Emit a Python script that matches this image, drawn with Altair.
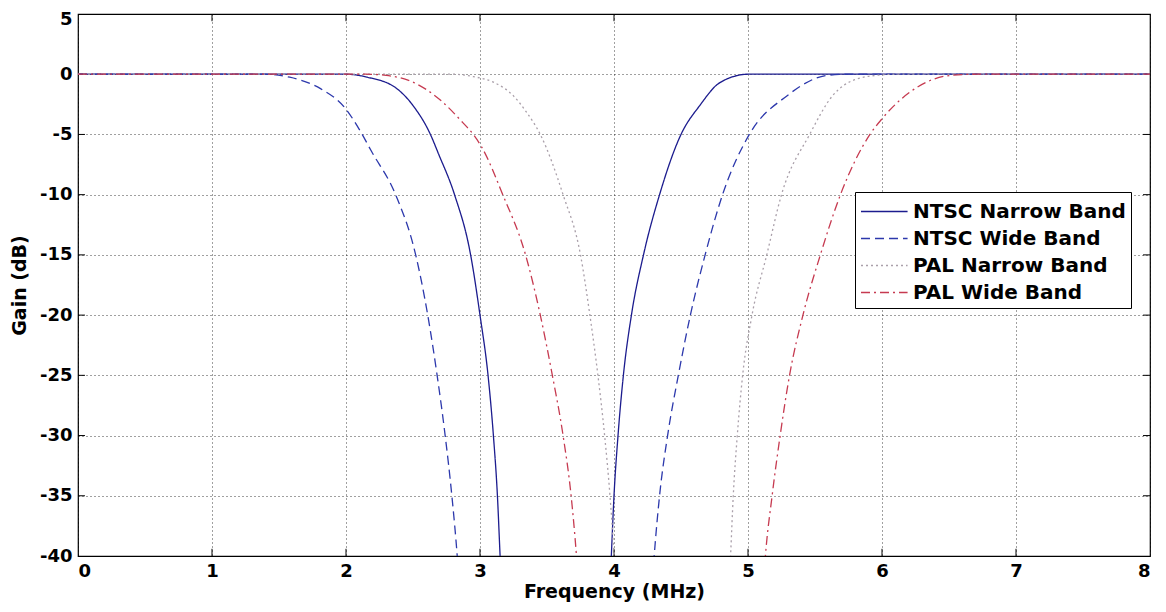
import altair as alt
import pandas as pd

# ---------------- data ----------------
series_names = ["NTSC Narrow Band", "NTSC Wide Band", "PAL Narrow Band", "PAL Wide Band"]
series_colors = ["#1c1c8e", "#2c38ac", "#aaa0aa", "#c63a50"]
series_dashes = [[1, 0], [9, 5], [2, 3], [9, 4, 2, 4]]

ntsc_narrow_f = [0, 2.0, 2.16, 2.38, 2.5, 2.63, 2.69, 2.81, 2.93, 3.0, 3.06, 3.10, 3.13, 3.15, 3.17,
                 3.56, 3.96, 3.98, 4.0, 4.03, 4.07, 4.13, 4.22, 4.34, 4.5, 4.64, 4.79, 5.0, 8.0]
ntsc_narrow_g = [0, 0, -0.25, -1.2, -2.6, -5, -6.6, -10, -15, -20, -25, -30, -35, -40, -45,
                 -80, -45, -40, -35, -30, -25, -20, -15, -10, -5, -2.6, -0.7, 0, 0]

ntsc_wide_f = [0, 1.4, 1.58, 1.81, 2.0, 2.1, 2.19, 2.37, 2.52, 2.61, 2.68, 2.74, 2.79, 2.83, 2.86,
               3.56, 4.27, 4.30, 4.34, 4.40, 4.48, 4.57, 4.68, 4.81, 5.01, 5.29, 5.59, 5.75, 8.0]
ntsc_wide_g = [0, 0, -0.25, -1.2, -2.9, -4.6, -6.4, -10, -15, -20, -25, -30, -35, -40, -45,
               -80, -45, -40, -35, -30, -25, -20, -15, -10, -5, -1.8, -0.1, 0, 0]

pal_narrow_f = [0, 2.8, 2.95, 3.1, 3.25, 3.35, 3.45, 3.62, 3.75, 3.82, 3.88, 3.93, 3.97, 4.0, 4.02,
                4.43, 4.85, 4.87, 4.89, 4.92, 4.96, 5.03, 5.14, 5.25, 5.46, 5.63, 5.81, 6.0, 6.1, 8.0]
pal_narrow_g = [0, 0, -0.2, -0.66, -1.8, -3.2, -5, -10, -15, -20, -25, -30, -35, -40, -45,
                -80, -45, -40, -35, -30, -25, -20, -15, -10, -5, -1.8, -0.4, -0.05, 0, 0]

pal_wide_f = [0, 2.15, 2.3, 2.5, 2.72, 2.87, 2.95, 3.01, 3.17, 3.34, 3.45, 3.54, 3.62, 3.68, 3.72, 3.75,
              4.43, 5.10, 5.13, 5.18, 5.24, 5.31, 5.41, 5.54, 5.69, 5.91, 6.0, 6.26, 6.51, 6.7, 8.0]
pal_wide_g = [0, 0, -0.1, -0.66, -2.3, -4, -5, -6, -10, -15, -20, -25, -30, -35, -40, -45,
              -80, -45, -40, -35, -30, -25, -20, -15, -10, -5, -3.7, -1.1, -0.1, 0, 0]

x_ticks = [0, 1, 2, 3, 4, 5, 6, 7, 8]
y_ticks = [5, 0, -5, -10, -15, -20, -25, -30, -35, -40]

# ---------------- build table ----------------
rows = []
for name, fs, gs in [
    (series_names[0], ntsc_narrow_f, ntsc_narrow_g),
    (series_names[1], ntsc_wide_f, ntsc_wide_g),
    (series_names[2], pal_narrow_f, pal_narrow_g),
    (series_names[3], pal_wide_f, pal_wide_g),
]:
    for i, (f, g) in enumerate(zip(fs, gs)):
        rows.append({"series": name, "f": f, "g": g, "i": i})
df = pd.DataFrame(rows)

# inward tick marks (MATLAB style)
tick_len_y = 0.6
tick_len_x = 0.052
trows = []
for xv in x_ticks[1:-1]:
    trows.append({"x": xv, "x2": xv, "y": -40, "y2": -40 + tick_len_y})
    trows.append({"x": xv, "x2": xv, "y": 5, "y2": 5 - tick_len_y})
for yv in y_ticks[1:-1]:
    trows.append({"x": 0, "x2": tick_len_x, "y": yv, "y2": yv})
    trows.append({"x": 8, "x2": 8 - tick_len_x, "y": yv, "y2": yv})
tdf = pd.DataFrame(trows)

FONT = "DejaVu Sans"

xscale = alt.Scale(domain=[0, 8], nice=False, zero=False)
yscale = alt.Scale(domain=[-40, 5], nice=False, zero=False)

leg = alt.Legend(
    title=None,
    orient="none",
    legendX=777,
    legendY=178,
    symbolType="M-1,0H2.45",
    symbolSize=729,
    symbolStrokeWidth=1.3,
    labelFont=FONT,
    labelFontSize=20,
    labelFontWeight="bold",
    labelColor="black",
    labelOffset=24,
    labelLimit=400,
    fillColor="white",
    strokeColor="black",
    padding=5,
    rowPadding=2,
    cornerRadius=0,
)

lines = alt.Chart(df).mark_line(clip=True, strokeWidth=1.3, interpolate="monotone").encode(
    x=alt.X("f:Q", scale=xscale,
            axis=alt.Axis(values=x_ticks, title="Frequency (MHz)", labelExpr="'' + datum.value")),
    y=alt.Y("g:Q", scale=yscale,
            axis=alt.Axis(values=y_ticks, title="Gain (dB)", labelExpr="'' + datum.value",
                          labelOffset={"condition": {"test": "datum.value == 5", "value": 5}, "value": 0})),
    color=alt.Color("series:N", scale=alt.Scale(domain=series_names, range=series_colors), legend=leg),
    strokeDash=alt.StrokeDash("series:N", scale=alt.Scale(domain=series_names, range=series_dashes), legend=leg),
    order=alt.Order("i:Q"),
)

ticks = alt.Chart(tdf).mark_rule(color="black", strokeWidth=1).encode(
    x=alt.X("x:Q", scale=xscale),
    x2="x2:Q",
    y=alt.Y("y:Q", scale=yscale),
    y2="y2:Q",
)

chart = alt.layer(ticks, lines).properties(
    width=1072,
    height=542,
    autosize=alt.AutoSizeParams(type="none"),
    padding={"left": 70, "top": 6, "right": 6, "bottom": 47},
    background="white",
).configure_view(
    stroke="black", strokeWidth=1.2
).configure_axis(
    grid=True,
    gridColor="#000000",
    gridDash=[1, 3],
    gridOpacity=0.75,
    gridWidth=1,
    ticks=False,
    domain=False,
    labelFont=FONT,
    labelFontSize=18,
    labelFontWeight="bold",
    labelColor="black",
    titleFont=FONT,
    titleFontSize=19,
    titleFontWeight="bold",
    titleColor="black",
).configure_axisX(
    labelPadding=6,
    titlePadding=2,
).configure_axisY(
    labelPadding=6,
    titlePadding=10,
)

chart.save("out.html", embed_options={"renderer": "svg", "actions": False})
